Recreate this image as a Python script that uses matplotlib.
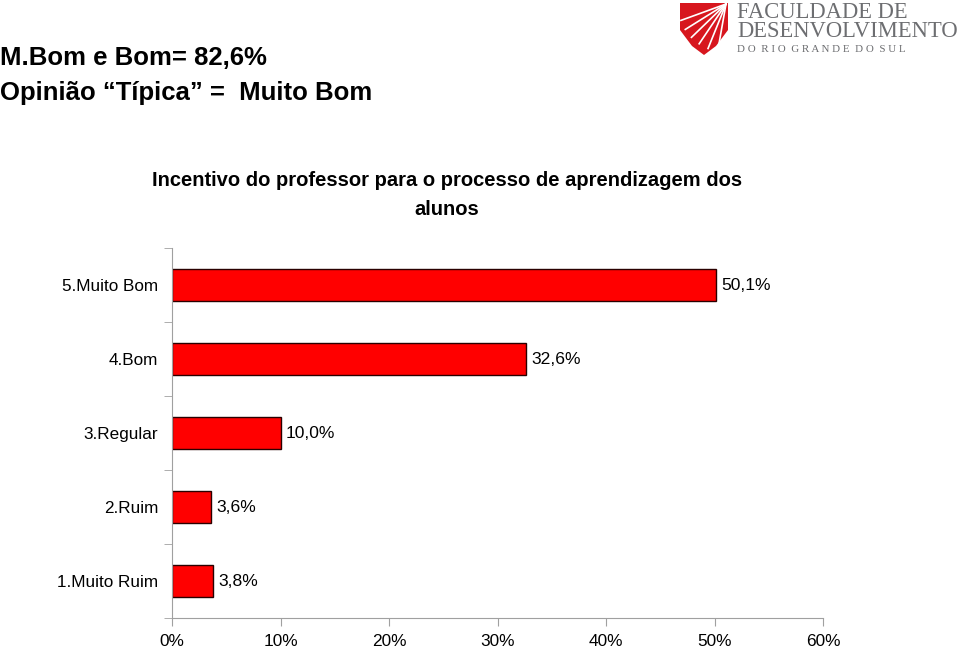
import matplotlib.pyplot as plt
from matplotlib.patches import Polygon
import numpy as np

plt.rcParams['font.family'] = ['Liberation Sans', 'DejaVu Sans']

categorias = ['1.Muito Ruim', '2.Ruim', '3.Regular', '4.Bom', '5.Muito Bom']
valores = [3.8, 3.6, 10.0, 32.6, 50.1]
rotulos = ['3,8%', '3,6%', '10,0%', '32,6%', '50,1%']
xticks = [0, 10, 20, 30, 40, 50, 60]

fig = plt.figure(figsize=(9.6, 6.49), dpi=100)

# cabecalho
fig.text(0.0, 1 - 58 / 649, 'M.Bom e Bom= 82,6%', fontsize=18.5, fontweight='bold', va='center')
fig.text(0.0, 1 - 93 / 649, 'Opinião \u201cTípica\u201d =  Muito Bom', fontsize=18.5, fontweight='bold', va='center')

# titulo do grafico
fig.text(447 / 960, 1 - 195 / 649, 'Incentivo do professor para o processo de aprendizagem dos\nalunos',
         fontsize=14.5, fontweight='bold', ha='center', va='center', linespacing=1.66)

# logo (aproximado)
lax = fig.add_axes([0, 0, 1, 1], zorder=-1)
lax.set_xlim(0, 960)
lax.set_ylim(649, 0)
lax.axis('off')
escudo = Polygon([(680, 3), (728, 3), (728, 30), (716, 46), (704, 55), (692, 46), (680, 30)],
                 closed=True, facecolor='#d7161e', edgecolor='none')
lax.add_patch(escudo)
for ang in np.linspace(200, 260, 6):
    a = np.deg2rad(ang)
    lax.plot([726, 726 + 48 * np.cos(a)], [4, 4 - 48 * np.sin(a)], color='white', lw=1.2)
lax.text(737, 37, 'FACULDADE DE\nDESENVOLVIMENTO', fontsize=16.3, family='Liberation Serif',
         color='#6d6e71', va='baseline', linespacing=0.85)
lax.text(737, 49, 'D O  R I O  G R A N D E  D O  S U L', fontsize=7.9, family='Liberation Serif',
         color='#6d6e71', va='center')

ax = fig.add_axes([172 / 960, 1 - 618 / 649, (823 - 172) / 960, (618 - 248) / 649])
y = np.arange(len(categorias))
ax.barh(y, valores, height=0.43, color='#ff0000', edgecolor='#2a0000', linewidth=1)
for yi, v, r in zip(y, valores, rotulos):
    ax.text(v + 0.5, yi, r, va='center', ha='left', fontsize=12.6)

ax.set_xlim(0, 60)
ax.set_ylim(-0.5, 4.5)
ax.set_xticks(xticks)
ax.set_xticklabels([f'{t}%' for t in xticks], fontsize=12.4)
ax.set_yticks(y)
ax.set_yticklabels(categorias, fontsize=12.3)
ax.set_yticks(np.arange(-0.5, 5, 1), minor=True)
ax.tick_params(axis='y', which='major', length=0, pad=10)
ax.tick_params(axis='y', which='minor', length=6, color='#a0a0a0')
ax.tick_params(axis='x', length=6, color='#a0a0a0', pad=5.5)
for s in ['top', 'right']:
    ax.spines[s].set_visible(False)
for s in ['left', 'bottom']:
    ax.spines[s].set_color('#a0a0a0')

fig.savefig('out.png', dpi=100)
